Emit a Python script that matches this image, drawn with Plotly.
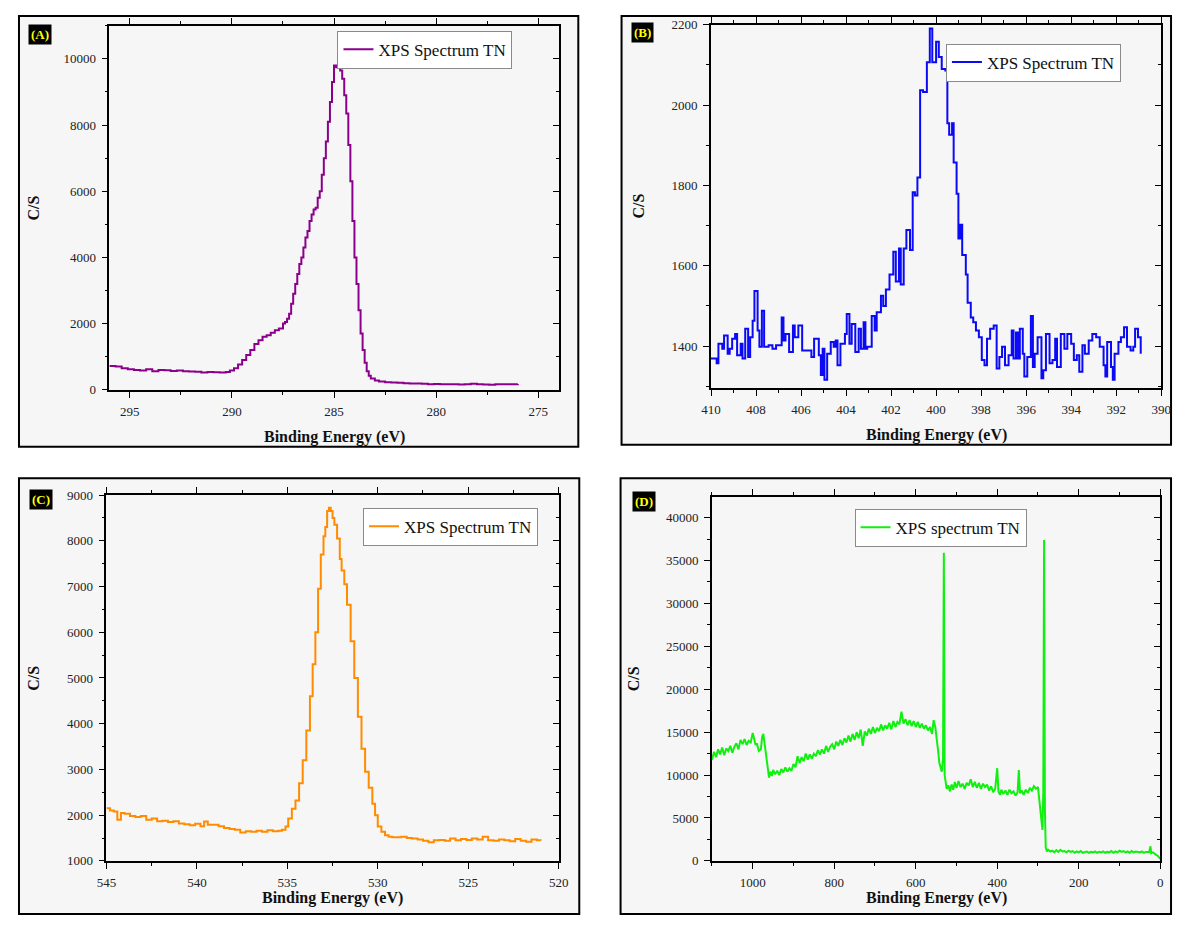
import plotly.graph_objects as go

# ---------------- data ----------------
energy_a = [296.0, 295.7, 295.4, 295.1, 294.8, 294.5, 294.2, 293.9, 293.6, 293.3, 293.0, 292.7, 292.4,
            292.1, 291.8, 291.5, 291.2, 290.9, 290.6, 290.3, 290.1, 289.9, 289.7, 289.5, 289.3, 289.1,
            288.9, 288.7, 288.5, 288.3, 288.1, 287.9, 287.7, 287.5, 287.4, 287.3, 287.2, 287.1, 287.0,
            286.9, 286.8, 286.7, 286.6, 286.5, 286.4, 286.3, 286.2, 286.1, 286.0, 285.9, 285.8, 285.7,
            285.6, 285.5, 285.4, 285.3, 285.2, 285.1, 285.0, 284.9, 284.8, 284.7, 284.6, 284.5, 284.4,
            284.3, 284.2, 284.1, 284.0, 283.9, 283.8, 283.7, 283.6, 283.5, 283.4, 283.3, 283.2, 283.0,
            282.8, 282.5, 282.2, 281.9, 281.6, 281.3, 281.0, 280.7, 280.4, 280.1, 279.8, 279.5, 279.2,
            278.9, 278.6, 278.3, 278.0, 277.7, 277.4, 277.1, 276.8, 276.5, 276.2, 276.0]
cps_a = [720, 700, 650, 620, 600, 580, 620, 560, 600, 590, 570, 580, 560,
         550, 545, 520, 540, 530, 520, 540, 580, 650, 760, 900, 1050, 1200,
         1380, 1500, 1600, 1650, 1720, 1800, 1850, 2000, 2050, 2150, 2300, 2600, 2900,
         3200, 3500, 3800, 4000, 4300, 4600, 4800, 5100, 5300, 5450, 5500, 5800, 6000,
         6500, 7000, 7500, 8100, 8700, 9300, 9800, 9750, 9870, 9650, 9400, 8900, 8350,
         7400, 6300, 5100, 4000, 3200, 2400, 1700, 1200, 820, 560, 420, 340, 280,
         250, 230, 220, 210, 200, 190, 190, 180, 170, 175, 170, 165, 165,
         160, 165, 180, 170, 160, 150, 170, 165, 170, 170, 175]

energy_b = [410.0, 409.75, 409.67, 409.5, 409.42, 409.26, 409.17, 409.06, 408.93, 408.84, 408.68, 408.6,
            408.48, 408.35, 408.26, 408.15, 408.07, 407.93, 407.85, 407.74, 407.64, 407.44, 407.27, 407.11,
            406.86, 406.78, 406.69, 406.53, 406.36, 406.28, 406.12, 405.95, 405.7, 405.54, 405.42, 405.21,
            405.12, 405.04, 404.96, 404.84, 404.68, 404.55, 404.46, 404.38, 404.25, 404.05, 403.97, 403.85,
            403.75, 403.59, 403.44, 403.34, 403.22, 403.14, 403.06, 402.86, 402.73, 402.64, 402.45, 402.35,
            402.23, 402.07, 401.9, 401.79, 401.65, 401.57, 401.44, 401.32, 401.16, 401.04, 400.94, 400.83,
            400.71, 400.58, 400.41, 400.28, 400.17, 400.0, 399.88, 399.75, 399.59, 399.5, 399.42, 399.29,
            399.22, 399.09, 399.01, 398.93, 398.84, 398.68, 398.6, 398.46, 398.35, 398.23, 398.1, 397.97,
            397.85, 397.74, 397.6, 397.44, 397.31, 397.19, 397.07, 396.94, 396.78, 396.64, 396.56, 396.45,
            396.36, 396.28, 396.15, 396.08, 395.95, 395.79, 395.7, 395.62, 395.49, 395.32, 395.24, 395.12,
            394.96, 394.83, 394.71, 394.63, 394.46, 394.3, 394.17, 394.0, 393.88, 393.75, 393.64, 393.5,
            393.39, 393.22, 393.06, 392.89, 392.73, 392.56, 392.48, 392.4, 392.23, 392.15, 392.07, 391.9,
            391.79, 391.65, 391.52, 391.36, 391.24, 391.16, 391.03, 390.91]
cps_b = [1369, 1357, 1406, 1393, 1426, 1381, 1393, 1418, 1430, 1377, 1406, 1369,
         1443, 1373, 1422, 1463, 1537, 1439, 1398, 1488, 1398, 1402, 1393, 1402,
         1471, 1414, 1430, 1385, 1451, 1422, 1451, 1389, 1389, 1373, 1418, 1377,
         1328, 1393, 1316, 1381, 1410, 1398, 1414, 1352, 1406, 1430, 1480, 1406,
         1455, 1385, 1443, 1393, 1459, 1393, 1398, 1475, 1439, 1484, 1525, 1500,
         1541, 1578, 1635, 1561, 1643, 1553, 1643, 1689, 1639, 1783, 1775, 1820,
         2037, 2033, 2107, 2191, 2107, 2158, 2120, 2090, 2086, 1955, 1926, 1955,
         1857, 1779, 1668, 1702, 1627, 1578, 1508, 1471, 1459, 1439, 1422, 1365,
         1352, 1418, 1443, 1451, 1344, 1373, 1398, 1352, 1377, 1439, 1369, 1434,
         1369, 1443, 1381, 1324, 1373, 1475, 1348, 1381, 1422, 1320, 1340, 1430,
         1357, 1365, 1418, 1348, 1430, 1393, 1430, 1406, 1365, 1377, 1336, 1402,
         1381, 1414, 1430, 1422, 1398, 1352, 1324, 1410, 1348, 1316, 1381, 1410,
         1422, 1447, 1398, 1389, 1398, 1443, 1422, 1381]

energy_c = [545.0, 544.8, 544.6, 544.4, 544.2, 544.0, 543.7, 543.4, 543.1, 542.8, 542.5, 542.2, 541.9,
            541.6, 541.3, 541.0, 540.7, 540.4, 540.1, 539.8, 539.6, 539.4, 539.1, 538.8, 538.5, 538.2,
            537.9, 537.6, 537.3, 537.0, 536.7, 536.4, 536.1, 535.8, 535.5, 535.3, 535.1, 534.95, 534.75,
            534.55, 534.35, 534.15, 533.95, 533.75, 533.6, 533.45, 533.3, 533.15, 533.0, 532.9, 532.8,
            532.7, 532.6, 532.5, 532.4, 532.25, 532.1, 532.0, 531.85, 531.7, 531.5, 531.3, 531.1, 530.9,
            530.7, 530.5, 530.3, 530.15, 530.0, 529.8, 529.6, 529.4, 529.2, 529.0, 528.7, 528.4, 528.1,
            527.8, 527.5, 527.2, 526.9, 526.6, 526.3, 526.0, 525.7, 525.4, 525.1, 524.8, 524.5, 524.2,
            523.9, 523.6, 523.3, 523.0, 522.7, 522.4, 522.1, 521.8, 521.5, 521.2, 521.0]
cps_c = [2150, 2100, 2080, 1900, 2050, 2030, 1980, 1960, 1980, 1900, 1930, 1870, 1880,
         1850, 1870, 1820, 1800, 1780, 1810, 1760, 1860, 1790, 1790, 1760, 1720, 1700,
         1680, 1620, 1650, 1640, 1660, 1640, 1670, 1650, 1660, 1680, 1750, 1930, 2140,
         2320, 2700, 3200, 3850, 4600, 5300, 6000, 6950, 7700, 8100, 8300, 8650,
         8720, 8650, 8500, 8350, 8050, 7600, 7350, 7050, 6600, 5800, 5000, 4150, 3450,
         2950, 2600, 2250, 2000, 1750, 1640, 1560, 1530, 1520, 1520, 1530, 1500, 1490,
         1470, 1440, 1410, 1450, 1460, 1440, 1490, 1450, 1480, 1460, 1490, 1470, 1530,
         1450, 1440, 1470, 1450, 1430, 1480, 1440, 1420, 1470, 1450, 1440]

energy_d = [1100, 1095, 1090, 1085, 1080, 1075, 1070, 1065, 1060, 1055, 1050, 1045, 1040, 1035, 1030,
            1025, 1020, 1015, 1010, 1005, 1000, 997, 993, 990, 985, 980, 977, 974, 971, 967, 963, 960,
            957, 953, 950, 945, 940, 935, 930, 925, 920, 915, 910, 905, 900, 895, 890, 885, 880, 875,
            870, 865, 860, 855, 850, 845, 840, 835, 830, 825, 820, 815, 810, 805, 800, 795, 790, 785,
            780, 775, 770, 765, 760, 755, 750, 745, 740, 735, 730, 725, 720, 715, 710, 705, 700, 695,
            690, 685, 680, 675, 670, 665, 660, 655, 650, 645, 640, 635, 630, 625, 620, 615, 610, 605,
            600, 595, 590, 585, 580, 575, 570, 565, 560, 556, 552, 548, 545, 542, 539, 536, 533, 531,
            529, 527, 524, 520, 516, 512, 508, 504, 500, 495, 490, 485, 480, 475, 470, 465, 460, 455,
            450, 445, 440, 435, 430, 425, 420, 415, 410, 405, 400, 397, 393, 390, 385, 380, 375, 370,
            365, 360, 355, 350, 347, 344, 340, 335, 330, 325, 320, 315, 310, 305, 300, 296, 292, 289,
            287, 285, 283, 281, 278, 275, 270, 265, 260, 255, 250, 245, 240, 235, 230, 225, 220, 215,
            210, 205, 200, 195, 190, 185, 180, 175, 170, 165, 160, 155, 150, 145, 140, 135, 130, 125,
            120, 115, 110, 105, 100, 95, 90, 85, 80, 75, 70, 65, 60, 55, 50, 45, 40, 35, 30, 27, 24,
            22, 18, 14, 10, 6, 3, 0]
cps_d = [11800, 12700, 12100, 13000, 12400, 13200, 12300, 13100, 12800, 13400, 12600, 13300, 13700,
         13000, 14100, 13600, 14200, 13500, 14000, 13800, 14900, 14200, 13500, 13700, 12800, 13000,
         14400, 14800, 13600, 12200, 10500, 9700, 10400, 9900, 10600, 10100, 10500, 10000, 10700,
         10300, 10900, 10400, 10800, 10500, 11300, 10900, 12200, 11400, 12100, 11600, 12500, 11800,
         12400, 11900, 12500, 12200, 12900, 12400, 13000, 12500, 13400, 12700, 13300, 13600, 13000,
         13900, 13400, 14100, 13500, 14300, 13800, 14600, 13900, 14800, 14100, 15000, 14300, 15300,
         13400, 15100, 14600, 15400, 14800, 15600, 14900, 15500, 15100, 15900, 15200, 15800, 15400,
         16100, 15300, 16300, 15600, 16200, 15900, 17400, 16000, 16500, 15800, 16400, 15700, 16300,
         15600, 16200, 15500, 16000, 15400, 15800, 15200, 15600, 14800, 16400, 15600, 14200, 12800,
         11400, 10800, 10400, 12000, 35900, 10000, 9200, 8400, 8800, 8100, 8900, 8300, 9200, 8500,
         9300, 8600, 9000, 8400, 9100, 8800, 9500, 8600, 9200, 8500, 9100, 8400, 9000, 8600, 8900,
         8200, 8700, 8000, 8400, 10800, 8100, 7700, 8300, 7800, 8200, 7700, 8300, 7900, 8100, 7600,
         8000, 10600, 7900, 8200, 7700, 8300, 7900, 8500, 8200, 8700, 8400, 8600, 6800, 4500, 3600,
         8000, 37400, 6000, 1600, 1100, 1300, 1100, 1200, 1000, 1250, 1050, 1300, 1100, 1150, 1000,
         1200, 1050, 1150, 950, 1100, 1000, 1150, 950, 1050, 1100, 950, 1050, 1000, 1100, 950, 1050,
         980, 1100, 950, 1050, 1000, 1150, 950, 1100, 1000, 1200, 1050, 1150, 1000, 1100, 950, 1150,
         1000, 1100, 1050, 1000, 1100, 950, 1050, 1000, 1050, 1700, 900, 1000, 800, 700, 600, 400, 250]

series_names = ["XPS Spectrum TN", "XPS Spectrum TN", "XPS Spectrum TN", "XPS spectrum TN"]
panel_labels = ["(A)", "(B)", "(C)", "(D)"]
x_title = "Binding Energy (eV)"
y_title = "C/S"

# ---------------- layout helpers ----------------
# The page keeps the browser's default 8px body margin, so the figure is
# sized to fit the 1191x932 window exactly and page pixels are offset by 8.
VW, VH = 1191, 932
OFF = 8
W, H = VW - 2 * OFF, VH - 2 * OFF
FONT = "Liberation Serif"


def fx(px):
    return (px - OFF) / W


def fy(py):
    return 1 - (py - OFF) / H


panels = [
    dict(x=energy_a, y=cps_a, color="#8B008B", shape="hv", xr=[296, 274], yr=[0, 11000],
         xd=(101, 558), yd=(19, 389), xt=(275, 5, 2.5), yt=(0, 2000, 1000),
         frame=(9, 9, 578, 447), lab=(30.5, 27.5), leg=(333, 24), xty=437, ytx=24),
    dict(x=energy_b, y=cps_b, color="#0A0AF5", shape="hv", xr=[410, 390], yr=[1296, 2200],
         xd=(713, 1171), yd=(18, 387), xt=(390, 2, 1), yt=(1400, 200, 100),
         frame=(622, 9, 1181, 445), lab=(643, 26), leg=(952, 37), xty=435, ytx=639),
    dict(x=energy_c, y=cps_c, color="#FF8C00", shape="hv", xr=[545, 520], yr=[1000, 9000],
         xd=(98, 558), yd=(496, 868), xt=(520, 5, 2.5), yt=(1000, 1000, 500),
         frame=(9, 479, 579, 922), lab=(31, 501), leg=(359, 509), xty=906, ytx=24),
    dict(x=energy_d, y=cps_d, color="#10F010", shape="linear", xr=[1100, 0], yr=[0, 42400],
         xd=(714, 1170), yd=(498, 868), xt=(0, 200, 100), yt=(0, 5000, 2500),
         frame=(621, 479, 1181, 922), lab=(645, 503), leg=(859, 510), xty=906, ytx=635),
]

fig = go.Figure()
layout = dict(
    width=W, height=H, margin=dict(l=0, r=0, t=0, b=0, pad=0),
    paper_bgcolor="white", plot_bgcolor="rgba(0,0,0,0)",
    font=dict(family=FONT, color="#222222", size=13),
    showlegend=True, shapes=[], annotations=[],
)

tickfont = dict(family=FONT, size=13, color="#222222")

for i, p in enumerate(panels):
    n = i + 1
    sx = "" if n == 1 else str(n)
    leg_key = "legend" if n == 1 else f"legend{n}"
    fig.add_trace(go.Scatter(
        x=p["x"], y=p["y"], mode="lines", name=series_names[i], showlegend=True,
        line=dict(color=p["color"], width=2, shape=p["shape"]),
        xaxis="x" + sx, yaxis="y" + sx, legend=leg_key,
    ))
    xdom = [fx(p["xd"][0]), fx(p["xd"][1])]
    ydom = [fy(p["yd"][1]), fy(p["yd"][0])]
    x0, xdt, xmin = p["xt"]
    y0, ydt, ymin = p["yt"]
    common = dict(showgrid=False, zeroline=False, linecolor="black", linewidth=1.6,
                  tickcolor="black", tickwidth=1.4, ticklen=6, tickfont=tickfont,
                  exponentformat="none", separatethousands=False, tickformat="d")
    # bottom axis: outward ticks, mirrored onto the top edge
    layout["xaxis" + sx] = dict(
        domain=xdom, range=p["xr"], anchor="y" + sx, showline=True, mirror="ticks",
        ticks="outside", tick0=x0, dtick=xdt, ticklabelstandoff=3,
        minor=dict(dtick=xmin, tick0=x0, ticks="outside", ticklen=3, tickwidth=1.2, tickcolor="black"),
        **common)
    layout["yaxis" + sx] = dict(
        domain=ydom, range=p["yr"], anchor="x" + sx, showline=True, mirror=True,
        ticks="outside", tick0=y0, dtick=ydt, ticklabelstandoff=3,
        minor=dict(dtick=ymin, tick0=y0, ticks="outside", ticklen=3, tickwidth=1.2, tickcolor="black"),
        **common)
    # inward ticks on the right: secondary y axis overlaying the main one
    layout[f"yaxis{n + 4}"] = dict(
        overlaying="y" + sx, side="right", anchor="x" + sx, range=p["yr"], showline=False,
        showgrid=False, zeroline=False, showticklabels=False, ticks="inside", tick0=y0, dtick=ydt,
        ticklen=6, tickwidth=1.4, tickcolor="black",
        minor=dict(dtick=ymin, tick0=y0, ticks="inside", ticklen=3, tickwidth=1.2, tickcolor="black"))
    fig.add_trace(go.Scatter(x=[None], y=[None], mode="lines", showlegend=False, hoverinfo="skip",
                             xaxis="x" + sx, yaxis=f"y{n + 4}"))

    # panel frame
    fx0, fy0, fx1, fy1 = p["frame"]
    layout["shapes"].append(dict(
        type="rect", xref="paper", yref="paper", layer="below",
        x0=fx(fx0), x1=fx(fx1), y0=fy(fy1), y1=fy(fy0),
        fillcolor="#f6f6f6", line=dict(color="black", width=2)))

    # legend
    layout[leg_key] = dict(
        x=fx(p["leg"][0]), y=fy(p["leg"][1]), xanchor="left", yanchor="top",
        bgcolor="white", bordercolor="#8a8a8a", borderwidth=1,
        font=dict(family=FONT, size=17, color="#111111"),
        itemwidth=30, tracegroupgap=0)

    # panel label
    layout["annotations"].append(dict(
        x=fx(p["lab"][0]), y=fy(p["lab"][1]), xref="paper", yref="paper",
        text="<b>" + panel_labels[i] + "</b>", showarrow=False,
        font=dict(family=FONT, size=13, color="#FFFF00"), bgcolor="black", borderpad=2,
        xanchor="center", yanchor="middle"))
    # axis titles
    layout["annotations"].append(dict(
        x=(xdom[0] + xdom[1]) / 2, y=fy(p["xty"]), xref="paper", yref="paper",
        text="<b>" + x_title + "</b>", showarrow=False,
        font=dict(family=FONT, size=16, color="#111111"), xanchor="center", yanchor="middle"))
    layout["annotations"].append(dict(
        x=fx(p["ytx"]), y=(ydom[0] + ydom[1]) / 2, xref="paper", yref="paper",
        text="<b>" + y_title + "</b>", showarrow=False, textangle=-90,
        font=dict(family=FONT, size=16, color="#111111"), xanchor="center", yanchor="middle"))

fig.update_layout(**layout)
fig.write_html("out.html", config={"displayModeBar": False})
